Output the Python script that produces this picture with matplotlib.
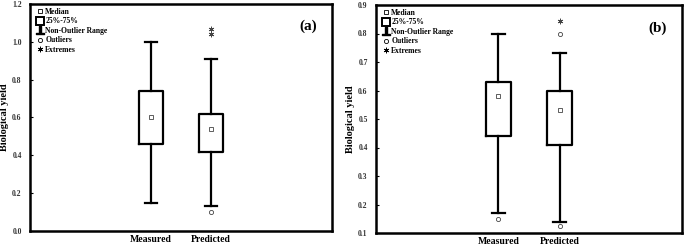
import matplotlib.pyplot as plt
from matplotlib.lines import Line2D

plt.rcParams['font.family'] = ['Liberation Serif', 'DejaVu Serif']
plt.rcParams['font.weight'] = 'bold'

groups = ["Measured", "Predicted"]

# panel (a): whisker low, q1, median, q3, whisker high
a_low = [0.15, 0.13]
a_q1 = [0.46, 0.42]
a_med = [0.60, 0.54]
a_q3 = [0.74, 0.62]
a_high = [1.00, 0.91]
a_outliers = [[], [0.10]]
a_extremes = [[], [1.04, 1.07]]

# panel (b)
b_low = [0.17, 0.14]
b_q1 = [0.44, 0.41]
b_med = [0.58, 0.53]
b_q3 = [0.63, 0.60]
b_high = [0.80, 0.73]
b_outliers = [[0.15], [0.125, 0.80]]
b_extremes = [[], [0.845]]

a_ticks = [0.0, 0.2, 0.4, 0.6, 0.8, 1.0, 1.2]
b_ticks = [0.1, 0.2, 0.3, 0.4, 0.5, 0.6, 0.7, 0.8, 0.9]

ASTER = (6, 2, 0)


def draw(ax, low, q1, med, q3, high, outl, extr, ticks, tag):
    stats = []
    for i in range(len(groups)):
        stats.append(dict(med=med[i], q1=q1[i], q3=q3[i], whislo=low[i],
                          whishi=high[i], fliers=[], label=groups[i]))
    ax.bxp(stats, positions=[1, 2], widths=0.4, showfliers=False,
           boxprops=dict(color='black', linewidth=1.6),
           whiskerprops=dict(color='black', linewidth=1.6),
           capprops=dict(color='black', linewidth=1.6),
           medianprops=dict(linewidth=0))
    for i in range(len(groups)):
        ax.plot(i + 1, med[i], 's', ms=3.5, mfc='white', mec='#444444', mew=0.6)
        if outl[i]:
            ax.plot([i + 1] * len(outl[i]), outl[i], 'o', ms=3, mfc='white',
                    mec='#444444', mew=0.6)
        if extr[i]:
            ax.plot([i + 1] * len(extr[i]), extr[i], ls='none', marker=ASTER,
                    ms=4, color='#444444', mew=0.6)
    ax.set_xlim(-1, 4)
    ax.set_ylim(ticks[0], ticks[-1])
    ax.set_yticks(ticks)
    ax.set_yticklabels(['%.1f' % t for t in ticks], fontsize=5.5, color='#333333')
    ax.tick_params(axis='y', direction='in', length=2, width=0.8, pad=6)
    ax.tick_params(axis='x', length=0, labelsize=7, pad=3)
    for s in ax.spines.values():
        s.set_linewidth(1.8)
    ax.set_ylabel("Biological yield", fontsize=7.5, fontweight='bold', labelpad=2)
    ax.text(0.92, 0.9, tag, transform=ax.transAxes, fontsize=11,
            fontweight='bold', ha='center', va='center')
    handles = [
        Line2D([], [], ls='none', marker='s', ms=3.5, mfc='white', mec='black', mew=0.6),
        Line2D([], [], ls='none', marker='s', ms=6, mfc='white', mec='black', mew=1.4),
        Line2D([], [], ls='none', marker='$\\bot$', ms=6, color='black'),
        Line2D([], [], ls='none', marker='o', ms=3, mfc='white', mec='black', mew=0.6),
        Line2D([], [], ls='none', marker=ASTER, ms=4, color='black', mew=0.6),
    ]
    labels = ["Median", "25%-75%", "Non-Outlier Range", "Outliers", "Extremes"]
    ax.legend(handles, labels, loc='upper left', bbox_to_anchor=(0.01, 1.0),
              frameon=False, fontsize=5.5,
              handlelength=0.8, handletextpad=0.3, labelspacing=0.2,
              borderaxespad=0.2, borderpad=0.3)


fig = plt.figure(figsize=(6.85, 2.5), dpi=100)
ax1 = fig.add_axes([0.0438, 0.076, 0.4409, 0.908])
ax2 = fig.add_axes([0.5489, 0.068, 0.4467, 0.912])

draw(ax1, a_low, a_q1, a_med, a_q3, a_high, a_outliers, a_extremes, a_ticks, "(a)")
draw(ax2, b_low, b_q1, b_med, b_q3, b_high, b_outliers, b_extremes, b_ticks, "(b)")

fig.savefig("out.png", dpi=100)
